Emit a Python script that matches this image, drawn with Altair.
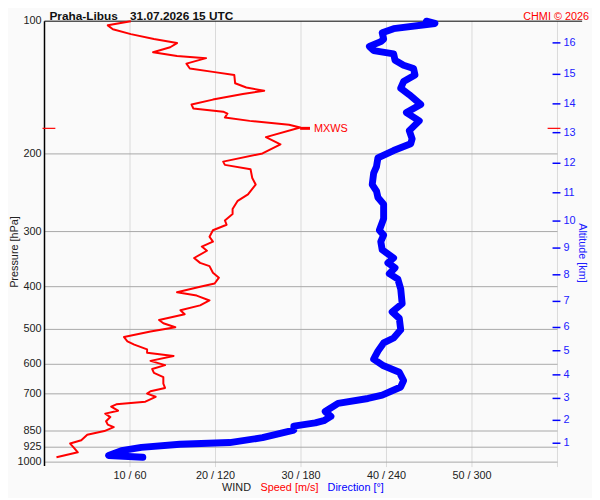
import altair as alt
import pandas as pd

# ---------------- data ----------------
speed_p = [100.0, 102.2, 104.3, 107.0, 109.8, 112.1, 114.6, 117.6, 120.0, 121.3,
           124.8, 128.0, 130.3, 132.5, 138.3, 141.4, 143.8, 146.3, 150.6, 154.5,
           157.7, 160.4, 162.0, 165.4, 168.3, 171.8, 174.2, 183.2, 190.3, 199.5,
           208.2, 211.8, 216.6, 226.8, 234.7, 247.0, 255.5, 266.7, 273.6, 283.0,
           289.5, 297.9, 308.3, 316.2, 324.4, 331.6, 344.4, 353.3, 359.4, 371.9,
           381.6, 393.5, 400.2, 412.0, 419.0, 429.9, 441.0, 452.5, 461.8, 476.2,
           484.3, 494.3, 505.6, 520.3, 532.1, 541.2, 555.2, 564.6, 574.5, 589.4,
           602.6, 615.0, 627.7, 641.7, 664.1, 678.8, 690.8, 699.0, 710.9, 729.3,
           739.5, 748.2, 764.5, 776.2, 790.3, 807.9, 822.1, 833.1, 850.3, 866.6,
           892.2, 907.4, 926.1, 950.1, 974.7]
speed = [10.1, 7.4, 8.0, 10.1, 12.8, 15.5, 14.7, 12.7, 15.5, 18.9,
         16.6, 17.0, 19.7, 22.2, 22.3, 23.6, 25.7, 23.2, 19.7, 17.2,
         17.4, 20.9, 21.4, 21.1, 24.0, 28.6, 29.9, 25.9, 27.6, 25.5,
         20.9, 21.1, 24.1, 24.3, 24.7, 23.8, 22.6, 22.0, 22.0, 21.1,
         21.3, 19.7, 19.3, 19.7, 18.4, 19.0, 17.5, 18.2, 19.3, 19.7,
         20.4, 19.9, 18.2, 15.5, 17.8, 19.3, 18.2, 15.9, 16.4, 13.4,
         13.9, 15.3, 12.4, 9.3, 9.7, 10.5, 12.0, 12.0, 15.1, 12.4,
         14.1, 12.6, 12.8, 13.9, 13.9, 14.1, 12.4, 12.0, 13.0, 11.8,
         8.4, 7.8, 8.6, 7.1, 7.7, 7.2, 7.4, 8.1, 7.0, 5.0,
         4.3, 3.0, 3.4, 3.9, 1.4]

dir_p = [100.0, 101.2, 104.0, 106.2, 109.8, 111.3, 114.1, 116.6, 118.6, 122.7,
         125.9, 128.0, 132.5, 137.1, 141.9, 146.8, 154.5, 161.2, 168.3, 177.1,
         184.8, 189.6, 196.5, 204.2, 213.6, 221.1, 234.7, 242.8, 251.2, 260.0,
         280.7, 297.9, 305.6, 316.2, 330.0, 344.4, 353.3, 362.5, 373.8, 384.7,
         405.0, 437.2, 456.4, 472.1, 501.2, 523.0, 536.6, 560.1, 584.3, 604.7,
         625.5, 652.9, 675.4, 705.1, 717.2, 735.8, 767.7, 787.6, 805.4, 815.0,
         828.8, 846.0, 880.0, 902.8, 910.7, 926.1, 941.9, 966.3, 975.0]
direction = [268, 274, 245, 237, 238, 236, 228, 231, 245, 246,
             252, 259, 260, 252, 250, 256, 264, 254, 263, 256,
             258, 257, 245, 234, 233, 231, 230, 233, 234, 238,
             238, 235, 238, 236, 237, 245, 241, 246, 242, 248,
             250, 251, 244, 249, 250, 245, 238, 234, 231, 238,
             249, 252, 250, 237, 227, 206, 197, 201, 196, 190,
             175, 175, 153, 130, 95, 68, 54, 45, 69]

p_levels = [100, 200, 300, 400, 500, 600, 700, 850, 925, 1000]
grid_p = [200, 300, 400, 500, 600, 700, 850, 925, 1000]
speed_ticks = [10, 20, 30, 40, 50]
speed_tick_labels = ["10 / 60", "20 / 120", "30 / 180", "40 / 240", "50 / 300"]
vgrid_s = [10, 20, 30, 40, 50, 60]

alt_km = [1, 2, 3, 4, 5, 6, 7, 8, 9, 10, 11, 12, 13, 14, 15, 16]
alt_p = [906, 804, 717, 634, 559, 495, 432, 376, 327, 284, 245, 210, 179, 154, 132, 112]

mxws_p = [175]
mxws_s = [29.9]

# ---------------- styling ----------------
W, H = 520, 447
RED = "#ff0000"
BLUE = "#0000ff"
FONT = "Liberation Sans"

ys = alt.Scale(type="log", domain=[100, 1000], reverse=True, nice=False)
xs = alt.Scale(domain=[0, 60], nice=False, zero=False)
xd = alt.Scale(domain=[0, 360], nice=False, zero=False)


def Y(f):
    return alt.Y(f"{f}:Q", scale=ys, axis=None)


def XS(f):
    return alt.X(f"{f}:Q", scale=xs, axis=None)


df_speed = pd.DataFrame({"p": speed_p, "s": speed, "i": range(len(speed))})
df_dir = pd.DataFrame({"p": dir_p, "d": direction, "i": range(len(direction))})

hgrid = alt.Chart(pd.DataFrame({"p": grid_p})).mark_rule(
    color="#a8a8a8", strokeWidth=1).encode(y=Y("p"), x=alt.value(0), x2=alt.value(W))

vgrid = alt.Chart(pd.DataFrame({"s": vgrid_s})).mark_rule(
    color="#d9d9d9", strokeWidth=1).encode(x=XS("s"), y=alt.value(0), y2=alt.value(452))

top_line = alt.Chart(pd.DataFrame({"p": [100]})).mark_rule(
    color="#000000", strokeWidth=1).encode(y=Y("p"), x=alt.value(0), x2=alt.value(545))

left_line = alt.Chart(pd.DataFrame({"p": [100]})).mark_rule(
    color="#000000", strokeWidth=1.5).encode(x=alt.value(0), y=alt.value(0), y2=alt.value(451))

left_labels = alt.Chart(pd.DataFrame({"p": p_levels, "lab": [str(v) for v in p_levels]})).mark_text(
    align="right", baseline="middle", fontSize=11, font=FONT, color="#222222").encode(
    y=Y("p"), x=alt.value(-3), text="lab:N")

bottom_labels = alt.Chart(pd.DataFrame({"s": speed_ticks, "lab": speed_tick_labels})).mark_text(
    align="center", baseline="middle", fontSize=11, font=FONT, color="#222222").encode(
    x=XS("s"), y=alt.value(461), text="lab:N")

wind_lbl = alt.Chart(pd.DataFrame({"t": ["WIND"]})).mark_text(
    align="left", baseline="middle", fontSize=11, font=FONT, color="#222222").encode(
    x=alt.value(180), y=alt.value(473), text="t:N")
speed_lbl = alt.Chart(pd.DataFrame({"t": ["Speed [m/s]"]})).mark_text(
    align="left", baseline="middle", fontSize=11, font=FONT, color=RED).encode(
    x=alt.value(219), y=alt.value(473), text="t:N")
dir_lbl = alt.Chart(pd.DataFrame({"t": ["Direction [°]"]})).mark_text(
    align="left", baseline="middle", fontSize=11, font=FONT, color=BLUE).encode(
    x=alt.value(287), y=alt.value(473), text="t:N")

speed_line = alt.Chart(df_speed).mark_line(
    color=RED, strokeWidth=2, strokeJoin="round").encode(
    x=XS("s"), y=Y("p"), order="i:Q")

dir_line = alt.Chart(df_dir).mark_line(
    color=BLUE, strokeWidth=7, strokeJoin="round", strokeCap="round").encode(
    x=alt.X("d:Q", scale=xd, axis=None), y=Y("p"), order="i:Q")

alt_ticks = alt.Chart(pd.DataFrame({"p": alt_p, "km": [str(k) for k in alt_km]})).mark_rule(
    color=BLUE, strokeWidth=1.5).encode(y=Y("p"), x=alt.value(515), x2=alt.value(523))
alt_labels = alt.Chart(pd.DataFrame({"p": alt_p, "km": [str(k) for k in alt_km]})).mark_text(
    align="left", baseline="middle", fontSize=11, font=FONT, color="#2020ff").encode(
    y=Y("p"), x=alt.value(526), text="km:N")

df_mx = pd.DataFrame({"p": mxws_p, "s": mxws_s, "t": ["MXWS"]})
mx_left = alt.Chart(df_mx).mark_rule(color=RED, strokeWidth=1.2).encode(
    y=Y("p"), x=alt.value(-2), x2=alt.value(11))
mx_right = alt.Chart(df_mx).mark_rule(color=RED, strokeWidth=1.2).encode(
    y=Y("p"), x=alt.value(510), x2=alt.value(523))
mx_mark = alt.Chart(df_mx).mark_rule(color=RED, strokeWidth=3, x2Offset=10).encode(
    y=Y("p"), x=XS("s"), x2="s:Q")
mx_text = alt.Chart(df_mx).mark_text(
    align="left", baseline="middle", dx=14, dy=1, fontSize=11, font=FONT, color=RED).encode(
    y=Y("p"), x=XS("s"), text="t:N")

title1 = alt.Chart(pd.DataFrame({"t": ["Praha-Libus"]})).mark_text(
    align="left", baseline="alphabetic", fontSize=12, fontWeight="bold", font=FONT, color="#111111").encode(
    x=alt.value(5), y=alt.value(-1.2), text="t:N")
title2 = alt.Chart(pd.DataFrame({"t": ["31.07.2026 15 UTC"]})).mark_text(
    align="left", baseline="alphabetic", fontSize=12, fontWeight="bold", font=FONT, color="#111111").encode(
    x=alt.value(86.7), y=alt.value(-1.2), text="t:N")
chmi = alt.Chart(pd.DataFrame({"t": ["CHMI © 2026"]})).mark_text(
    align="right", baseline="alphabetic", fontSize=11, font=FONT, color=RED).encode(
    x=alt.value(552), y=alt.value(-1.5), text="t:N")

ptitle = alt.Chart(pd.DataFrame({"t": ["Pressure [hPa]"]})).mark_text(
    align="center", baseline="middle", angle=270, fontSize=11, font=FONT, color="#222222").encode(
    x=alt.value(-29.5), y=alt.value(234), text="t:N")
atitle = alt.Chart(pd.DataFrame({"t": ["Altitude [km]"]})).mark_text(
    align="center", baseline="middle", angle=90, fontSize=11, font=FONT, color="#2020ff").encode(
    x=alt.value(545), y=alt.value(235), text="t:N")

chart = alt.layer(
    vgrid, hgrid, top_line, left_line, left_labels, bottom_labels,
    wind_lbl, speed_lbl, dir_lbl,
    alt_ticks, alt_labels, mx_left, mx_right,
    speed_line, mx_mark, mx_text, dir_line,
    title1, title2, chmi, ptitle, atitle,
).resolve_scale(x="independent").properties(
    width=W, height=H,
    padding={"left": 37, "top": 10, "right": 35, "bottom": 33},
    autosize=alt.AutoSizeParams(type="none"),
    background="#fafafa",
).configure_view(stroke=None)

chart.save("out.html", embed_options={"renderer": "svg", "actions": False})
